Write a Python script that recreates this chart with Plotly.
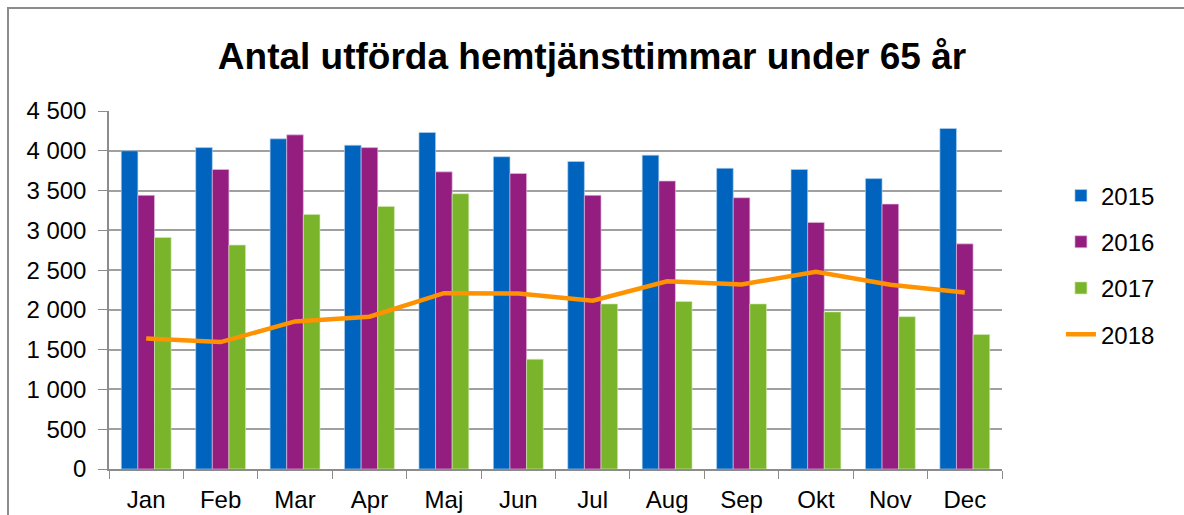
import plotly.graph_objects as go

months = ["Jan", "Feb", "Mar", "Apr", "Maj", "Jun", "Jul", "Aug", "Sep", "Okt", "Nov", "Dec"]
v2015 = [4000, 4040, 4150, 4070, 4230, 3925, 3865, 3945, 3780, 3765, 3650, 4280]
v2016 = [3440, 3765, 4200, 4040, 3735, 3715, 3440, 3620, 3410, 3100, 3330, 2830]
v2017 = [2910, 2815, 3200, 3300, 3460, 1380, 2075, 2105, 2075, 1975, 1915, 1690]
v2018 = [1640, 1595, 1855, 1915, 2210, 2205, 2115, 2360, 2320, 2480, 2315, 2220]
ytick_vals = [0, 500, 1000, 1500, 2000, 2500, 3000, 3500, 4000, 4500]
ytick_text = ["0", "500", "1 000", "1 500", "2 000", "2 500", "3 000", "3 500", "4 000", "4 500"]

FONT = "Liberation Sans, Arial, sans-serif"

fig = go.Figure()
fig.add_trace(go.Bar(x=months, y=v2015, name="2015", legendgroup="a",
                     marker=dict(color="#0064BE", line=dict(color="rgba(180,210,240,0.8)", width=0.8))))
fig.add_trace(go.Bar(x=months, y=v2016, name="2016", legendgroup="b",
                     marker=dict(color="#941E80", line=dict(color="rgba(230,190,225,0.8)", width=0.8))))
fig.add_trace(go.Bar(x=months, y=v2017, name="2017", legendgroup="c",
                     marker=dict(color="#79B42A", line=dict(color="rgba(210,235,180,0.8)", width=0.8))))
fig.add_trace(go.Scatter(x=months, y=v2018, name="2018", legendgroup="d", mode="lines",
                         line=dict(color="#FF9200", width=4.5)))

fig.update_layout(
    width=1184, height=515,
    margin=dict(l=109, r=182, t=111, b=46, autoexpand=False),
    paper_bgcolor="white", plot_bgcolor="white",
    font=dict(family=FONT, color="black", size=24),
    title=dict(text="<b>Antal utförda hemtjänsttimmar under 65 år</b>",
               x=0.5, xref="container", xanchor="center", y=0.892, yanchor="middle",
               font=dict(family=FONT, size=37, color="black")),
    barmode="group", bargap=0.33, bargroupgap=0,
    showlegend=True,
    legend=dict(x=1.066, xanchor="left", y=0.57, yanchor="middle",
                font=dict(family=FONT, size=24), traceorder="grouped",
                tracegroupgap=12, bgcolor="rgba(0,0,0,0)"),
    xaxis=dict(showline=True, linecolor="#8C8C8C", linewidth=1.5, automargin=False,
               ticks="outside", tickson="boundaries", ticklen=8, tickcolor="#8C8C8C",
               tickfont=dict(family=FONT, size=24), showgrid=False, ticklabelstandoff=8),
    yaxis=dict(range=[0, 4500], tickvals=ytick_vals, ticktext=ytick_text, automargin=False,
               showline=True, linecolor="#8C8C8C", linewidth=1.5,
               ticks="outside", ticklen=9, tickcolor="#8C8C8C",
               showgrid=True, gridcolor="#A0A0A0", gridwidth=1.5,
               tickfont=dict(family=FONT, size=24), ticklabelstandoff=7, zeroline=False),
    shapes=[dict(type="rect", xref="paper", yref="paper",
                 x0=(8 - 109) / 893, x1=(1195 - 109) / 893,
                 y0=(469 - 525) / 358, y1=(469 - 8) / 358,
                 line=dict(color="#8C8C8C", width=2), fillcolor="rgba(0,0,0,0)", layer="below")],
)

fig.write_html("out.html", config={"displayModeBar": False},
               post_script="document.body.style.margin='0';document.body.style.overflow='hidden';")
